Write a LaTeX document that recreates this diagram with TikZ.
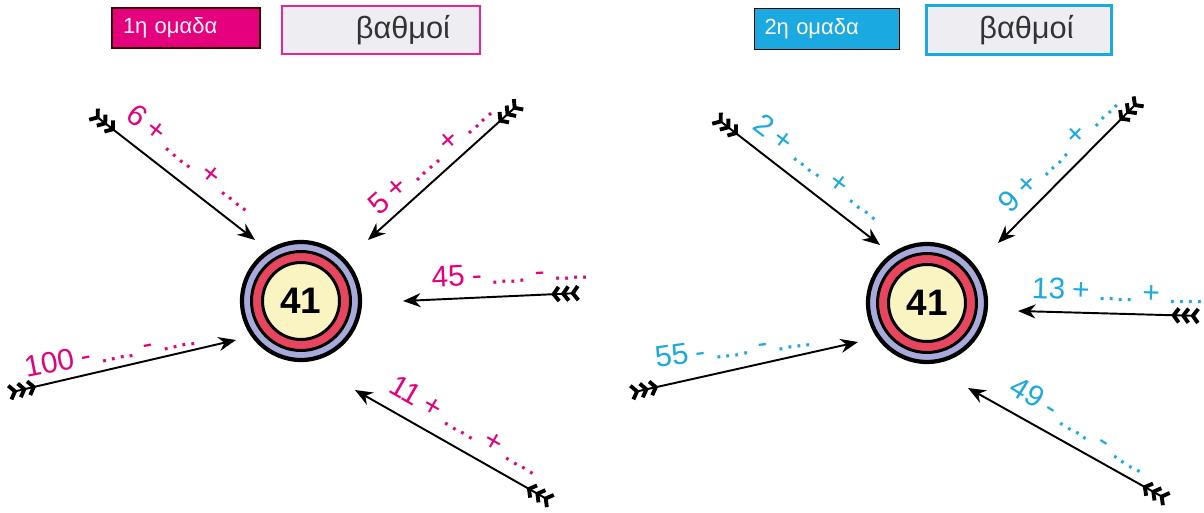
\documentclass[tikz,border=0pt]{standalone}
\usepackage{fontspec}
\setmainfont{Liberation Sans}
\usetikzlibrary{arrows.meta}

\definecolor{teamred}{HTML}{E5007D}
\definecolor{teamblue}{HTML}{1BA9E2}
\definecolor{ringblue}{HTML}{A7AADB}
\definecolor{ringred}{HTML}{E8465E}
\definecolor{ringyellow}{HTML}{FAF4C2}
\definecolor{boxgray}{HTML}{EDEDF2}

\newcommand{\dts}{.\hspace{0.4pt}.\hspace{0.4pt}.\hspace{0.4pt}.}
\newcommand{\sumexpr}[2]{#1\hspace{4pt}#2\hspace{5pt}\dts\hspace{5pt}#2\hspace{5pt}\dts}

\begin{document}
\begin{tikzpicture}[x=0.02cm, y=-0.02cm,
    teambox/.style={rectangle, draw=black!75!red, line width=0.8pt, text width=2.52cm, inner xsep=0.22cm, minimum height=0.8cm, align=left, text=white!85!pink, font=\fontsize{12.5}{14}\selectfont},
    scorebox/.style={rectangle, line width=1.4pt, fill=boxgray, minimum height=0.96cm, text=black!80, font=\fontsize{17.5}{20}\selectfont},
    outerring/.style={circle, draw, line width=2.4pt, fill=ringblue, minimum size=2.36cm},
    midring/.style={circle, draw, line width=1.7pt, fill=ringred, minimum size=1.98cm},
    innerring/.style={circle, draw, line width=1.7pt, fill=ringyellow, minimum size=1.54cm, font=\fontsize{21}{24}\selectfont\bfseries},
    sumlabel/.style={inner sep=0pt, font=\fontsize{17}{20}\selectfont},
    arrow/.style={line width=1.1pt,
        {Straight Barb[reversed,length=3pt,width=8pt,line width=2.2pt] Straight Barb[reversed,length=3pt,width=8pt,line width=2.2pt] Straight Barb[reversed,length=3pt,width=8pt,line width=2.2pt]}-{Stealth[length=10pt,width=8pt]}}
]
\useasboundingbox (0,0) rectangle (1204,513);

% team 1
\node[teambox, fill=teamred] (team1) at (186,28) {1η ομαδα};
\node[scorebox, draw=teamred!85, minimum width=3.96cm] (score1) at (381,30) {\hspace{0.88cm}βαθμοί};

\node[outerring] (target1) at (301,301) {};
\node[midring] (mid1) at (301,301) {};
\node[innerring] (inner1) at (301,301) {41};

\coordinate (l1tail) at (92,113);
\coordinate (l1tip) at (255,240);
\coordinate (l2tail) at (520,103);
\coordinate (l2tip) at (368,240);
\coordinate (l3tail) at (580,293);
\coordinate (l3tip) at (403,301);
\coordinate (l4tail) at (8,393);
\coordinate (l4tip) at (236,340);
\coordinate (l5tail) at (552,502);
\coordinate (l5tip) at (355,390);

\draw[arrow] (l1tail) -- (l1tip);
\draw[arrow] (l2tail) -- (l2tip);
\draw[arrow] (l3tail) -- (l3tip);
\draw[arrow] (l4tail) -- (l4tip);
\draw[arrow] (l5tail) -- (l5tip);

\node[sumlabel, text=teamred, rotate=-38] (sum1a) at (192,158) {\sumexpr{6}{+}};
\node[sumlabel, text=teamred, rotate=42] (sum1b) at (430,157) {\sumexpr{5}{+}};
\node[sumlabel, text=teamred, rotate=3] (sum1c) at (510,273) {\sumexpr{45}{-}};
\node[sumlabel, text=teamred, rotate=11] (sum1d) at (110,351) {\sumexpr{100}{-}};
\node[sumlabel, text=teamred, rotate=-30] (sum1e) at (466,425) {\sumexpr{11}{+}};

% team 2
\node[teambox, fill=teamblue, text width=2.5cm, inner xsep=0.2cm, minimum height=0.82cm] (team2) at (827,29) {2η ομαδα};
\node[scorebox, draw=teamblue, minimum width=3.7cm, minimum height=0.98cm] (score2) at (1019,30) {\hspace{0.3cm}βαθμοί};

\node[outerring] (target2) at (927,303) {};
\node[midring] (mid2) at (927,303) {};
\node[innerring] (inner2) at (927,303) {41};

\coordinate (r1tail) at (715,117);
\coordinate (r1tip) at (880,245);
\coordinate (r2tail) at (1140,100);
\coordinate (r2tip) at (998,243);
\coordinate (r3tail) at (1200,316);
\coordinate (r3tip) at (1018,311);
\coordinate (r4tail) at (630,393);
\coordinate (r4tip) at (858,342);
\coordinate (r5tail) at (1168,500);
\coordinate (r5tip) at (968,388);

\draw[arrow] (r1tail) -- (r1tip);
\draw[arrow] (r2tail) -- (r2tip);
\draw[arrow] (r3tail) -- (r3tip);
\draw[arrow] (r4tail) -- (r4tip);
\draw[arrow] (r5tail) -- (r5tip);

\node[sumlabel, text=teamblue, rotate=-37] (sum2a) at (820,167) {\sumexpr{2}{+}};
\node[sumlabel, text=teamblue, rotate=45] (sum2b) at (1058,152) {\sumexpr{9}{+}};
\node[sumlabel, text=teamblue, rotate=-2] (sum2c) at (1118,291) {\sumexpr{13}{+}};
\node[sumlabel, text=teamblue, rotate=8] (sum2d) at (733,347) {\sumexpr{55}{-}};
\node[sumlabel, text=teamblue, rotate=-32] (sum2e) at (1080,425) {\sumexpr{49}{-}};

\end{tikzpicture}
\end{document}
